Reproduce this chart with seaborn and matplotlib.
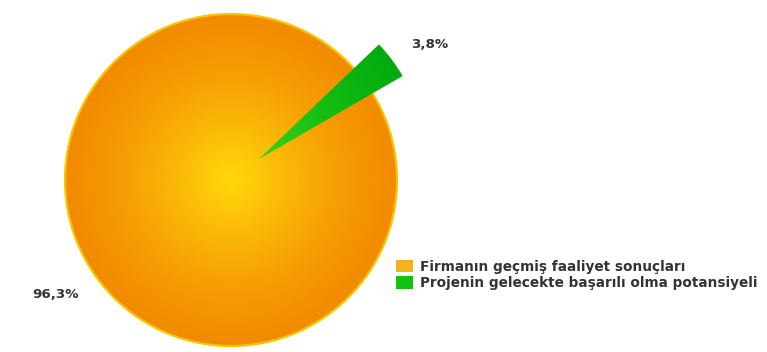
import numpy as np
import matplotlib
matplotlib.use("Agg")
import matplotlib.pyplot as plt
from matplotlib.colors import LinearSegmentedColormap
from matplotlib.patches import Patch, Circle
import seaborn as sns

# Data
categories = ["Firmanın geçmiş faaliyet sonuçları",
              "Projenin gelecekte başarılı olma potansiyeli"]
values = [96.3, 3.8]
value_labels = ["96,3%", "3,8%"]

sns.set_theme(style="white")
plt.rcParams["font.family"] = ["DejaVu Sans"]

W, H, DPI = 767, 352, 100
fig = plt.figure(figsize=(W / DPI, H / DPI), dpi=DPI)
fig.patch.set_facecolor("white")
ax = fig.add_axes([0, 0, 1, 1])

# Pie geometry in pixel terms: centre and radius
cx, cy, R = 231, 180, 166
xlim = (-cx / R, (W - cx) / R)
ylim = (-(H - cy) / R, cy / R)
ax.set_xlim(*xlim)
ax.set_ylim(*ylim)
ax.set_aspect("auto")
ax.axis("off")

wedges, texts = ax.pie(
    values,
    labels=value_labels,
    startangle=43.7,
    counterclock=True,
    explode=[0, 0.21],
    labeldistance=1.15,
    radius=1.0,
    textprops=dict(fontsize=9.6, fontweight="bold", color="#333333"),
    wedgeprops=dict(linewidth=0),
)

# Radial gradient fills
orange_cmap = LinearSegmentedColormap.from_list(
    "org", ["#FFD80A", "#FBB808", "#F69C04", "#F28A00"])
green_cmap = LinearSegmentedColormap.from_list(
    "grn", ["#3CD01A", "#12BE12", "#00AA0E"])

n = 500
xs = np.linspace(-1.05, 1.05, n)
X, Y = np.meshgrid(xs, xs)
Rg = np.clip(np.sqrt(X ** 2 + Y ** 2), 0, 1)

# Large slice: the body of the pie is filled as a full disc (the pulled-out
# slice sits on top of it), with a thin yellow rim.
body = Circle(wedges[0].center, wedges[0].r, facecolor="none",
              edgecolor="#F6C600", linewidth=1.6, zorder=2)
ax.add_patch(body)
wedges[0].set_visible(False)
c = wedges[0].center
im = ax.imshow(Rg, cmap=orange_cmap, vmin=0, vmax=1,
               extent=(c[0] - 1.05, c[0] + 1.05, c[1] - 1.05, c[1] + 1.05),
               origin="lower", interpolation="bilinear", zorder=1, aspect="auto")
im.set_clip_path(body)

# Small slice
g = wedges[1]
g.set_facecolor("none")
g.set_zorder(4)
c = g.center
im2 = ax.imshow(Rg, cmap=green_cmap, vmin=0, vmax=1,
                extent=(c[0] - 1.05, c[0] + 1.05, c[1] - 1.05, c[1] + 1.05),
                origin="lower", interpolation="bilinear", zorder=3, aspect="auto")
im2.set_clip_path(g)

ax.set_xlim(*xlim)
ax.set_ylim(*ylim)

handles = [Patch(facecolor="#F2B41C", edgecolor="none"),
           Patch(facecolor="#12C212", edgecolor="none")]
leg = fig.legend(handles, categories, loc="upper left",
                 bbox_to_anchor=(386 / W, 1 - 250 / H),
                 frameon=False, handlelength=1.3, handleheight=1.0,
                 handletextpad=0.5, labelspacing=0.2, borderpad=0.2,
                 prop=dict(size=9.8, weight="bold"))
for t in leg.get_texts():
    t.set_color("#333333")

fig.savefig("out.png", dpi=DPI, facecolor="white")
